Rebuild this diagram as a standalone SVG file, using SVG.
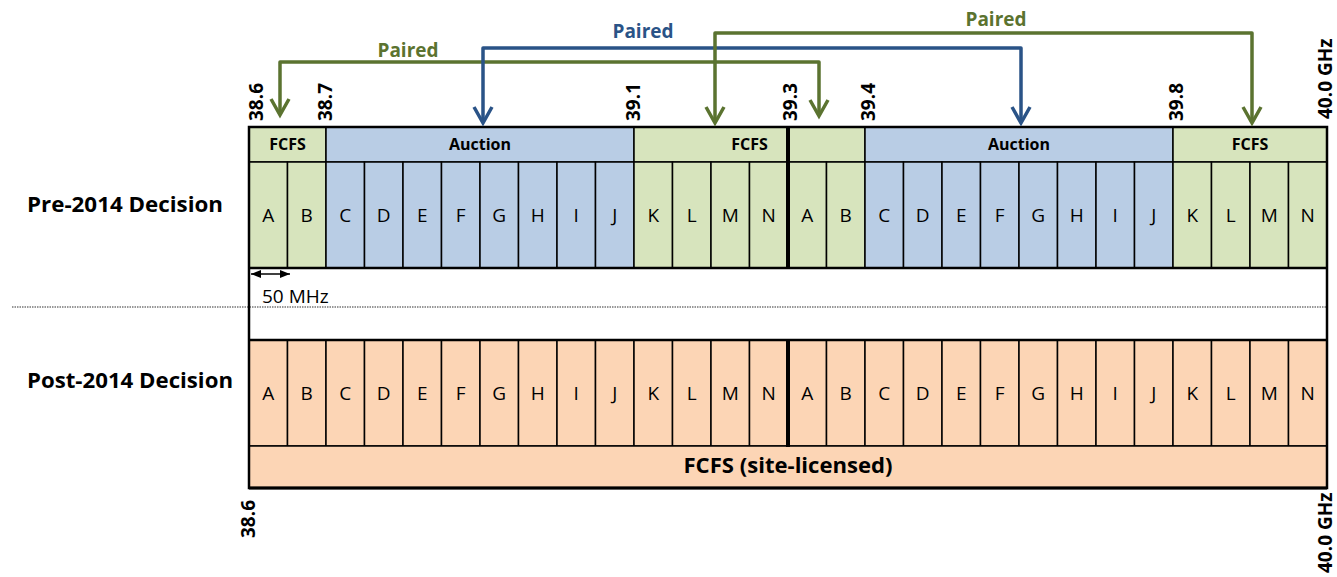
<svg xmlns="http://www.w3.org/2000/svg" width="1337" height="577" viewBox="0 0 1337 577">
<style>
text{font-family:"Open Sans","Liberation Sans",sans-serif;fill:#000}
.c{font-size:19px;text-anchor:middle}
.h{font-size:16px;font-weight:bold;text-anchor:middle}
.f{font-size:19px;font-weight:bold}
.lbl{font-size:22px;font-weight:bold}
.p{font-size:19px;font-weight:bold;text-anchor:middle}
.g{fill:#D7E4BD;stroke:#000;stroke-width:1.5}
.b{fill:#B9CDE5;stroke:#000;stroke-width:1.5}
.o{fill:#FCD5B5;stroke:#000;stroke-width:1.5}
.ag{fill:none;stroke:#5B7330;stroke-width:3.5;stroke-linejoin:round}
.ab{fill:none;stroke:#2A5387;stroke-width:3.5;stroke-linejoin:round}
.hg{fill:none;stroke:#5B7330;stroke-width:3.5;stroke-linejoin:miter}
.hb{fill:none;stroke:#2A5387;stroke-width:3.5;stroke-linejoin:miter}
</style>
<defs>
<marker id="dim" viewBox="0 0 10 10" refX="10" refY="5" markerWidth="10" markerHeight="10" markerUnits="userSpaceOnUse" orient="auto-start-reverse"><path d="M0,1 L10,5 L0,9 z" fill="#000"/></marker>
</defs>

<!-- side labels -->
<g id="label-pre"><text class="lbl" x="27" y="212" textLength="196" lengthAdjust="spacingAndGlyphs">Pre-2014 Decision</text></g>
<g id="label-post"><text class="lbl" x="27" y="388" textLength="206" lengthAdjust="spacingAndGlyphs">Post-2014 Decision</text></g>

<!-- dotted separator -->
<line x1="12" y1="307" x2="1327" y2="307" stroke="#777" stroke-width="1.5" stroke-dasharray="1.5,1"/>

<!-- pre-2014 headers -->
<g id="pre-hdr-fcfs1"><rect class="g" x="249" y="127" width="77" height="35"/><text class="h" x="287.5" y="150">FCFS</text></g>
<g id="pre-hdr-auction1"><rect class="b" x="326" y="127" width="308" height="35"/><text class="h" x="480" y="150">Auction</text></g>
<g id="pre-hdr-fcfs2"><rect class="g" x="634" y="127" width="154" height="35"/><text class="h" x="749.5" y="150">FCFS</text></g>
<g id="pre-hdr-fcfs2b"><rect class="g" x="788" y="127" width="77" height="35"/></g>
<g id="pre-hdr-auction2"><rect class="b" x="865" y="127" width="308" height="35"/><text class="h" x="1019" y="150">Auction</text></g>
<g id="pre-hdr-fcfs3"><rect class="g" x="1173" y="127" width="154" height="35"/><text class="h" x="1250" y="150">FCFS</text></g>

<!-- pre-2014 cells -->
<g id="pre-A1"><rect class="g" x="249" y="162" width="38.5" height="106"/><text class="c" x="268.25" y="222">A</text></g>
<g id="pre-B1"><rect class="g" x="287.5" y="162" width="38.5" height="106"/><text class="c" x="306.75" y="222">B</text></g>
<g id="pre-C1"><rect class="b" x="326" y="162" width="38.5" height="106"/><text class="c" x="345.25" y="222">C</text></g>
<g id="pre-D1"><rect class="b" x="364.5" y="162" width="38.5" height="106"/><text class="c" x="383.75" y="222">D</text></g>
<g id="pre-E1"><rect class="b" x="403" y="162" width="38.5" height="106"/><text class="c" x="422.25" y="222">E</text></g>
<g id="pre-F1"><rect class="b" x="441.5" y="162" width="38.5" height="106"/><text class="c" x="460.75" y="222">F</text></g>
<g id="pre-G1"><rect class="b" x="480" y="162" width="38.5" height="106"/><text class="c" x="499.25" y="222">G</text></g>
<g id="pre-H1"><rect class="b" x="518.5" y="162" width="38.5" height="106"/><text class="c" x="537.75" y="222">H</text></g>
<g id="pre-I1"><rect class="b" x="557" y="162" width="38.5" height="106"/><text class="c" x="576.25" y="222">I</text></g>
<g id="pre-J1"><rect class="b" x="595.5" y="162" width="38.5" height="106"/><text class="c" x="614.75" y="222">J</text></g>
<g id="pre-K1"><rect class="g" x="634" y="162" width="38.5" height="106"/><text class="c" x="653.25" y="222">K</text></g>
<g id="pre-L1"><rect class="g" x="672.5" y="162" width="38.5" height="106"/><text class="c" x="691.75" y="222">L</text></g>
<g id="pre-M1"><rect class="g" x="711" y="162" width="38.5" height="106"/><text class="c" x="730.25" y="222">M</text></g>
<g id="pre-N1"><rect class="g" x="749.5" y="162" width="38.5" height="106"/><text class="c" x="768.75" y="222">N</text></g>
<g id="pre-A2"><rect class="g" x="788" y="162" width="38.5" height="106"/><text class="c" x="807.25" y="222">A</text></g>
<g id="pre-B2"><rect class="g" x="826.5" y="162" width="38.5" height="106"/><text class="c" x="845.75" y="222">B</text></g>
<g id="pre-C2"><rect class="b" x="865" y="162" width="38.5" height="106"/><text class="c" x="884.25" y="222">C</text></g>
<g id="pre-D2"><rect class="b" x="903.5" y="162" width="38.5" height="106"/><text class="c" x="922.75" y="222">D</text></g>
<g id="pre-E2"><rect class="b" x="942" y="162" width="38.5" height="106"/><text class="c" x="961.25" y="222">E</text></g>
<g id="pre-F2"><rect class="b" x="980.5" y="162" width="38.5" height="106"/><text class="c" x="999.75" y="222">F</text></g>
<g id="pre-G2"><rect class="b" x="1019" y="162" width="38.5" height="106"/><text class="c" x="1038.25" y="222">G</text></g>
<g id="pre-H2"><rect class="b" x="1057.5" y="162" width="38.5" height="106"/><text class="c" x="1076.75" y="222">H</text></g>
<g id="pre-I2"><rect class="b" x="1096" y="162" width="38.5" height="106"/><text class="c" x="1115.25" y="222">I</text></g>
<g id="pre-J2"><rect class="b" x="1134.5" y="162" width="38.5" height="106"/><text class="c" x="1153.75" y="222">J</text></g>
<g id="pre-K2"><rect class="g" x="1173" y="162" width="38.5" height="106"/><text class="c" x="1192.25" y="222">K</text></g>
<g id="pre-L2"><rect class="g" x="1211.5" y="162" width="38.5" height="106"/><text class="c" x="1230.75" y="222">L</text></g>
<g id="pre-M2"><rect class="g" x="1250" y="162" width="38.5" height="106"/><text class="c" x="1269.25" y="222">M</text></g>
<g id="pre-N2"><rect class="g" x="1288.5" y="162" width="38.5" height="106"/><text class="c" x="1307.75" y="222">N</text></g>

<!-- post-2014 cells -->
<g id="post-A1"><rect class="o" x="249" y="340" width="38.5" height="106"/><text class="c" x="268.25" y="400">A</text></g>
<g id="post-B1"><rect class="o" x="287.5" y="340" width="38.5" height="106"/><text class="c" x="306.75" y="400">B</text></g>
<g id="post-C1"><rect class="o" x="326" y="340" width="38.5" height="106"/><text class="c" x="345.25" y="400">C</text></g>
<g id="post-D1"><rect class="o" x="364.5" y="340" width="38.5" height="106"/><text class="c" x="383.75" y="400">D</text></g>
<g id="post-E1"><rect class="o" x="403" y="340" width="38.5" height="106"/><text class="c" x="422.25" y="400">E</text></g>
<g id="post-F1"><rect class="o" x="441.5" y="340" width="38.5" height="106"/><text class="c" x="460.75" y="400">F</text></g>
<g id="post-G1"><rect class="o" x="480" y="340" width="38.5" height="106"/><text class="c" x="499.25" y="400">G</text></g>
<g id="post-H1"><rect class="o" x="518.5" y="340" width="38.5" height="106"/><text class="c" x="537.75" y="400">H</text></g>
<g id="post-I1"><rect class="o" x="557" y="340" width="38.5" height="106"/><text class="c" x="576.25" y="400">I</text></g>
<g id="post-J1"><rect class="o" x="595.5" y="340" width="38.5" height="106"/><text class="c" x="614.75" y="400">J</text></g>
<g id="post-K1"><rect class="o" x="634" y="340" width="38.5" height="106"/><text class="c" x="653.25" y="400">K</text></g>
<g id="post-L1"><rect class="o" x="672.5" y="340" width="38.5" height="106"/><text class="c" x="691.75" y="400">L</text></g>
<g id="post-M1"><rect class="o" x="711" y="340" width="38.5" height="106"/><text class="c" x="730.25" y="400">M</text></g>
<g id="post-N1"><rect class="o" x="749.5" y="340" width="38.5" height="106"/><text class="c" x="768.75" y="400">N</text></g>
<g id="post-A2"><rect class="o" x="788" y="340" width="38.5" height="106"/><text class="c" x="807.25" y="400">A</text></g>
<g id="post-B2"><rect class="o" x="826.5" y="340" width="38.5" height="106"/><text class="c" x="845.75" y="400">B</text></g>
<g id="post-C2"><rect class="o" x="865" y="340" width="38.5" height="106"/><text class="c" x="884.25" y="400">C</text></g>
<g id="post-D2"><rect class="o" x="903.5" y="340" width="38.5" height="106"/><text class="c" x="922.75" y="400">D</text></g>
<g id="post-E2"><rect class="o" x="942" y="340" width="38.5" height="106"/><text class="c" x="961.25" y="400">E</text></g>
<g id="post-F2"><rect class="o" x="980.5" y="340" width="38.5" height="106"/><text class="c" x="999.75" y="400">F</text></g>
<g id="post-G2"><rect class="o" x="1019" y="340" width="38.5" height="106"/><text class="c" x="1038.25" y="400">G</text></g>
<g id="post-H2"><rect class="o" x="1057.5" y="340" width="38.5" height="106"/><text class="c" x="1076.75" y="400">H</text></g>
<g id="post-I2"><rect class="o" x="1096" y="340" width="38.5" height="106"/><text class="c" x="1115.25" y="400">I</text></g>
<g id="post-J2"><rect class="o" x="1134.5" y="340" width="38.5" height="106"/><text class="c" x="1153.75" y="400">J</text></g>
<g id="post-K2"><rect class="o" x="1173" y="340" width="38.5" height="106"/><text class="c" x="1192.25" y="400">K</text></g>
<g id="post-L2"><rect class="o" x="1211.5" y="340" width="38.5" height="106"/><text class="c" x="1230.75" y="400">L</text></g>
<g id="post-M2"><rect class="o" x="1250" y="340" width="38.5" height="106"/><text class="c" x="1269.25" y="400">M</text></g>
<g id="post-N2"><rect class="o" x="1288.5" y="340" width="38.5" height="106"/><text class="c" x="1307.75" y="400">N</text></g>
<g id="post-fcfs"><rect class="o" x="249" y="446" width="1078" height="42"/><text class="lbl" x="788" y="473" text-anchor="middle" font-size="21" textLength="209" lengthAdjust="spacingAndGlyphs">FCFS (site-licensed)</text></g>

<!-- frames -->
<g fill="none" stroke="#000">
<rect x="249" y="127" width="1078" height="361" stroke-width="2.5"/>
<line x1="249" y1="268" x2="1327" y2="268" stroke-width="2.5"/>
<line x1="249" y1="340" x2="1327" y2="340" stroke-width="2.5"/>
<line x1="249" y1="488" x2="1327" y2="488" stroke-width="3"/>
<line x1="788" y1="127" x2="788" y2="268" stroke-width="4"/>
<line x1="788" y1="340" x2="788" y2="447" stroke-width="4"/>
</g>

<!-- 50 MHz dimension -->
<g id="dim-50mhz">
<line x1="251" y1="274" x2="290" y2="274" stroke="#000" stroke-width="1.5" marker-start="url(#dim)" marker-end="url(#dim)"/>
<text x="262" y="303" font-size="19">50 MHz</text>
</g>

<!-- frequency labels -->
<g id="freq-labels">
<text class="f" transform="translate(263,121) rotate(-90)">38.6</text>
<text class="f" transform="translate(332,121) rotate(-90)">38.7</text>
<text class="f" transform="translate(640,121) rotate(-90)">39.1</text>
<text class="f" transform="translate(797,121) rotate(-90)">39.3</text>
<text class="f" transform="translate(875,121) rotate(-90)">39.4</text>
<text class="f" transform="translate(1183,121) rotate(-90)">39.8</text>
<text class="f" transform="translate(1332,119) rotate(-90)">40.0 GHz</text>
<text class="f" transform="translate(255,538) rotate(-90)">38.6</text>
<text class="f" transform="translate(1332,573) rotate(-90)">40.0 GHz</text>
</g>

<!-- connectors -->
<g id="connectors">
<path class="ag" d="M280,113 V62 H819 V114"/>
<polyline class="hg" points="271,99 280,115 289,99"/>
<polyline class="hg" points="810,100 819,116 828,100"/>
<text class="p" x="408" y="57" style="fill:#5B7330">Paired</text>

<path class="ab" d="M483,121 V48 H1021 V121"/>
<polyline class="hb" points="474,107 483,123 492,107"/>
<polyline class="hb" points="1012,107 1021,123 1030,107"/>
<text class="p" x="643" y="38" style="fill:#2A5387">Paired</text>

<path class="ag" d="M715,121 V33 H1252 V121"/>
<polyline class="hg" points="706,107 715,123 724,107"/>
<polyline class="hg" points="1243,107 1252,123 1261,107"/>
<text class="p" x="996" y="26" style="fill:#5B7330">Paired</text>
</g>
</svg>
